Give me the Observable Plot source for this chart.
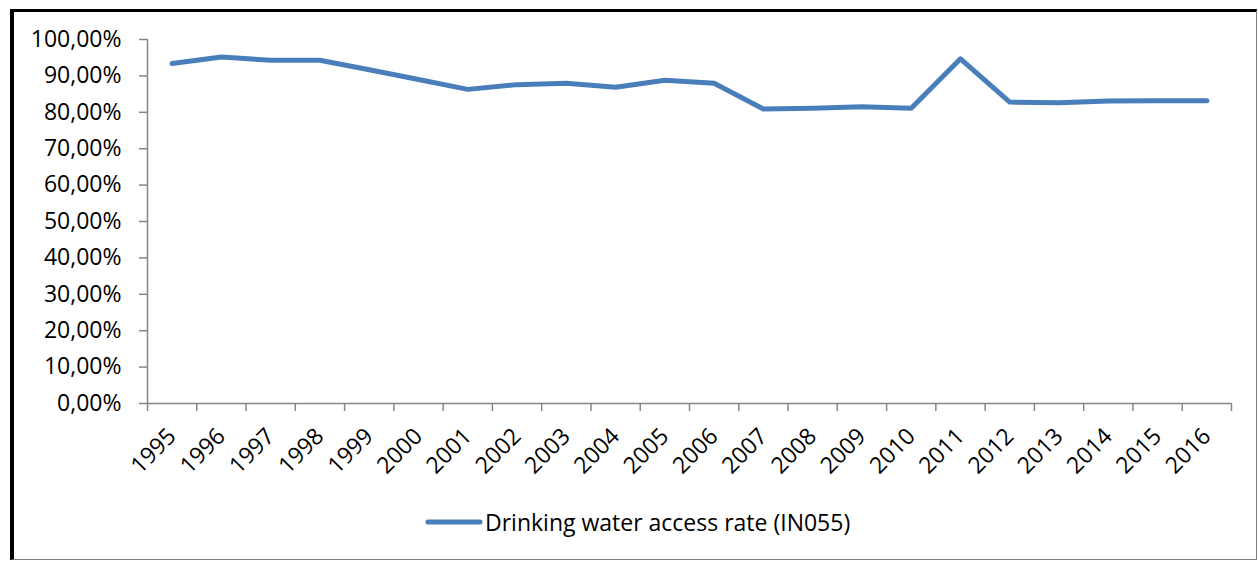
<!DOCTYPE html>
<html>
<head>
<meta charset="utf-8">
<script src="https://cdn.jsdelivr.net/npm/d3@7"></script>
<script src="https://cdn.jsdelivr.net/npm/@observablehq/plot@0.6"></script>
<style>
  html, body { margin: 0; padding: 0; background: #fff; }
  #wrap { position: relative; width: 1258px; height: 561px; overflow: hidden; font-family: "Open Sans", sans-serif; }
  #frame { position: absolute; left: 10px; top: 9px; width: 1242px; height: 547px;
           border-left: 4px solid #000; border-top: 3px solid #000;
           border-right: 1px solid #7f7f7f; border-bottom: 1px solid #7f7f7f; pointer-events: none; }
  #chart { position: absolute; left: 0; top: 0; }
  #legend { position: absolute; left: 425px; top: 506px; display: flex; align-items: center; font-size: 23px; color: #000; }
  #legend svg { margin-right: 2px; }
</style>
</head>
<body>
<div id="wrap">
  <div id="chart"></div>
  <div id="legend"></div>
  <div id="frame"></div>
</div>
<script>
const years = [1995, 1996, 1997, 1998, 1999, 2000, 2001, 2002, 2003, 2004, 2005, 2006, 2007, 2008, 2009, 2010, 2011, 2012, 2013, 2014, 2015, 2016];
const rates = [93.4, 95.2, 94.3, 94.3, 91.7, 89.0, 86.3, 87.6, 88.0, 86.9, 88.8, 88.0, 80.9, 81.1, 81.5, 81.1, 94.7, 82.8, 82.6, 83.1, 83.2, 83.2];
const yTicks = [0, 10, 20, 30, 40, 50, 60, 70, 80, 90, 100];
const seriesName = "Drinking water access rate (IN055)";
const lineColor = "#4a7ebb";
const axisColor = "#868686";

const data = years.map((year, i) => ({year, rate: rates[i]}));
const boundaries = years.map(y => y - 0.5).concat([years[years.length - 1] + 0.5]);
const fmt = v => v.toFixed(2).replace(".", ",") + "%";

const chart = Plot.plot({
  width: 1258,
  height: 490,
  marginTop: 39,
  marginLeft: 147,
  marginRight: 27,
  marginBottom: 87,
  style: {fontFamily: "'Open Sans', sans-serif", fontSize: "23px", color: "#000", background: "transparent"},
  x: {domain: [boundaries[0], boundaries[boundaries.length - 1]]},
  y: {domain: [0, 100]},
  marks: [
    Plot.ruleY([0], {stroke: axisColor, strokeWidth: 1.5}),
    Plot.ruleX([boundaries[0]], {stroke: axisColor, strokeWidth: 1.5}),
    Plot.axisY(yTicks, {tickSize: 8, tickPadding: 18, stroke: axisColor, strokeOpacity: 1, strokeWidth: 1.5, tickFormat: fmt, fill: "#000", label: null, fontSize: 23}),
    Plot.axisX(boundaries, {tickSize: 8, tickFormat: () => "", stroke: axisColor, strokeOpacity: 1, strokeWidth: 1.5, label: null}),
    Plot.axisX(years, {tickSize: 0, tickPadding: 29, tickRotate: -45, tickFormat: d => String(d), fill: "#000", label: null, fontSize: 23}),
    Plot.line(data, {x: "year", y: "rate", stroke: lineColor, strokeWidth: 5, strokeLinecap: "round", strokeLinejoin: "round"})
  ]
});
document.getElementById("chart").appendChild(chart);

const legend = document.getElementById("legend");
legend.innerHTML = `<svg width="58" height="10"><line x1="3" y1="5" x2="55" y2="5" stroke="${lineColor}" stroke-width="5" stroke-linecap="round"/></svg><span>${seriesName}</span>`;
</script>
</body>
</html>
